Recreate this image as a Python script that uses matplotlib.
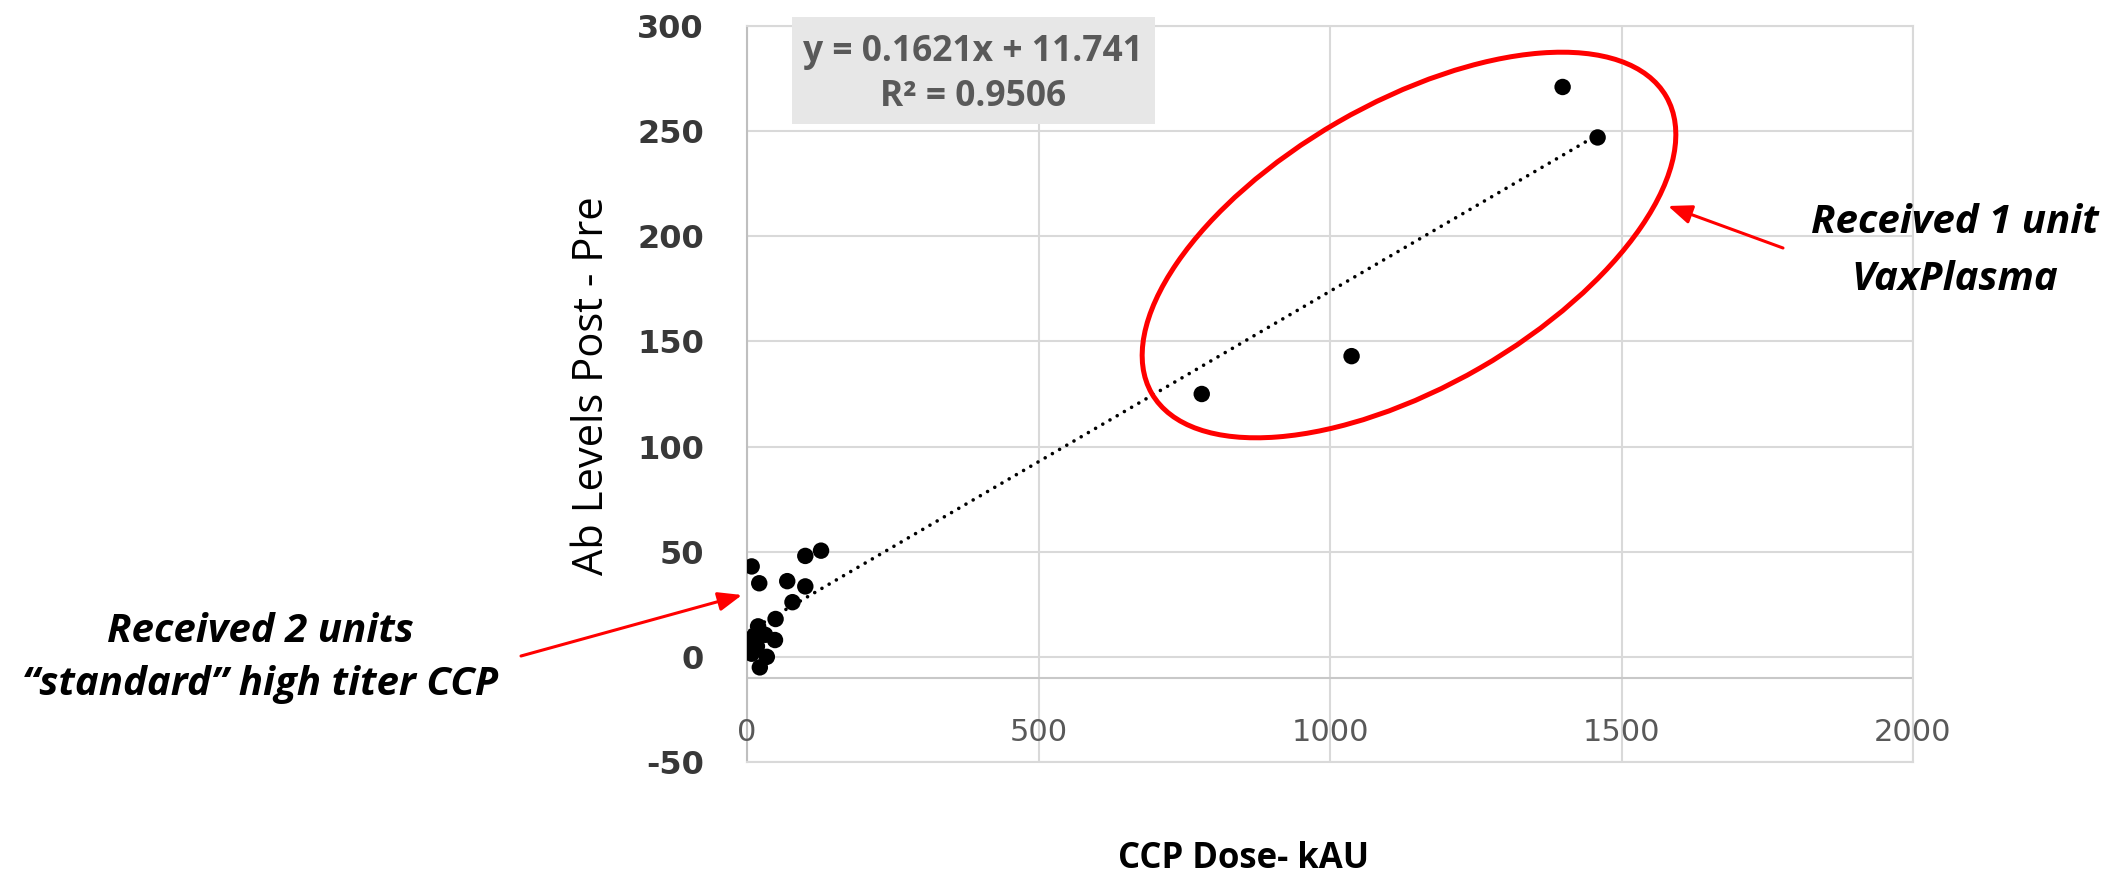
import matplotlib
matplotlib.use("Agg")
import matplotlib.pyplot as plt
import numpy as np
from matplotlib.patches import Ellipse, Rectangle, FancyArrowPatch

plt.rcParams["axes.unicode_minus"] = False

# CCP dose (kAU) vs change in antibody level (post - pre)
dose = [8, 21, 100, 127, 69, 100, 78, 49, 19, 11, 31, 48, 5, 17, 34, 22, 8,
        780, 1037, 1399, 1459]
ab_change = [43, 35, 48, 50.5, 36, 33.5, 26, 18, 14.5, 9.5, 10.5, 8, 3.5, 5, 0, -5, 1.5,
             125, 143, 271, 247]

# linear trendline reported on the chart
slope = 0.1621
intercept = 11.741
eq_lines = ["y = 0.1621x + 11.741", "R\u00b2 = 0.9506"]

x_ticks = [0, 500, 1000, 1500, 2000]
y_ticks = [-50, 0, 50, 100, 150, 200, 250, 300]

note_right = ["Received 1 unit", "VaxPlasma"]
note_left = ["Received 2 units", "\u201cstandard\u201d high titer CCP"]

W, H = 2121, 883
fig = plt.figure(figsize=(W / 100, H / 100), dpi=100)

# main plot area (pixel box)
left, right, top, bottom = 747, 1913, 26, 762
ax = fig.add_axes([left / W, 1 - bottom / H, (right - left) / W, (bottom - top) / H])
ax.set_xlim(0, 2000)
ax.set_ylim(-50, 300)

grid_c = "#d9d9d9"
ax.set_xticks(x_ticks)
ax.set_yticks(y_ticks)
ax.grid(True, color=grid_c, lw=1.5, zorder=0)
ax.set_axisbelow(True)
for s in ax.spines.values():
    s.set_color(grid_c)
    s.set_linewidth(1.5)
ax.spines["left"].set_color("#bfbfbf")
ax.axhline(-10, color="#c8c8c8", lw=1.5, zorder=1)

ax.tick_params(axis="both", length=0)
ax.tick_params(axis="x", labelbottom=False)
ax.tick_params(axis="y", pad=31, labelsize=23, labelcolor="#383838")
for lab in ax.get_yticklabels():
    lab.set_fontweight("bold")
    lab.set_family("DejaVu Sans")

# x tick labels sit inside the plot, between 0 and -50
for t in x_ticks:
    ax.text(t, -36, str(t), ha="center", va="center", fontsize=22,
            color="#595959", family="DejaVu Sans")

# trendline
xs = np.array([min(dose), max(dose)])
ax.plot(xs, slope * xs + intercept, color="black", lw=2.6,
        linestyle=(0, (0.01, 2.3)), dash_capstyle="round", zorder=2)

ax.scatter(dose, ab_change, s=140, color="black", edgecolors="none", zorder=3)

ax.set_ylabel("Ab Levels Post - Pre", family="Open Sans", fontsize=30, color="black")
ax.yaxis.set_label_coords(-0.115, 0.511)
ax.set_xlabel("CCP Dose- kAU", family="Open Sans", fontweight="bold", fontsize=25,
              color="black")
ax.xaxis.set_label_coords(0.4255, -0.108)

# overlay in pixel coordinates for the annotations
ov = fig.add_axes([0, 0, 1, 1])
ov.set_xlim(0, W)
ov.set_ylim(H, 0)
ov.axis("off")

ov.add_patch(Rectangle((792, 17), 363, 107, facecolor="#e7e7e7", edgecolor="none"))
ov.text(973, 52, eq_lines[0], ha="center", va="center", family="Open Sans",
        fontweight="bold", fontsize=25.5, color="#595959")
ov.text(973, 97, eq_lines[1], ha="center", va="center", family="Open Sans",
        fontweight="bold", fontsize=25.5, color="#595959")

red = "#ff0000"
ov.add_patch(Ellipse((1409, 245), 594, 284, angle=-30, facecolor="none",
                     edgecolor=red, lw=3.6))

ov.add_patch(FancyArrowPatch((1783, 248), (1668, 206),
                             arrowstyle="-|>,head_length=0.4,head_width=0.16",
                             mutation_scale=36, color=red, lw=2.2,
                             shrinkA=0, shrinkB=0))
ov.add_patch(FancyArrowPatch((521, 656), (742, 595),
                             arrowstyle="-|>,head_length=0.4,head_width=0.16",
                             mutation_scale=36, color=red, lw=2.2,
                             shrinkA=0, shrinkB=0))

note_kw = dict(ha="center", va="baseline", family="Open Sans", fontweight="bold",
               style="italic", fontsize=29, color="black")
ov.text(1955, 233, note_right[0], **note_kw)
ov.text(1955, 290, note_right[1], **note_kw)
ov.text(200 + 60, 642, note_left[0], **note_kw)
ov.text(260, 695, note_left[1], **note_kw)

fig.savefig("out.png", dpi=100)
